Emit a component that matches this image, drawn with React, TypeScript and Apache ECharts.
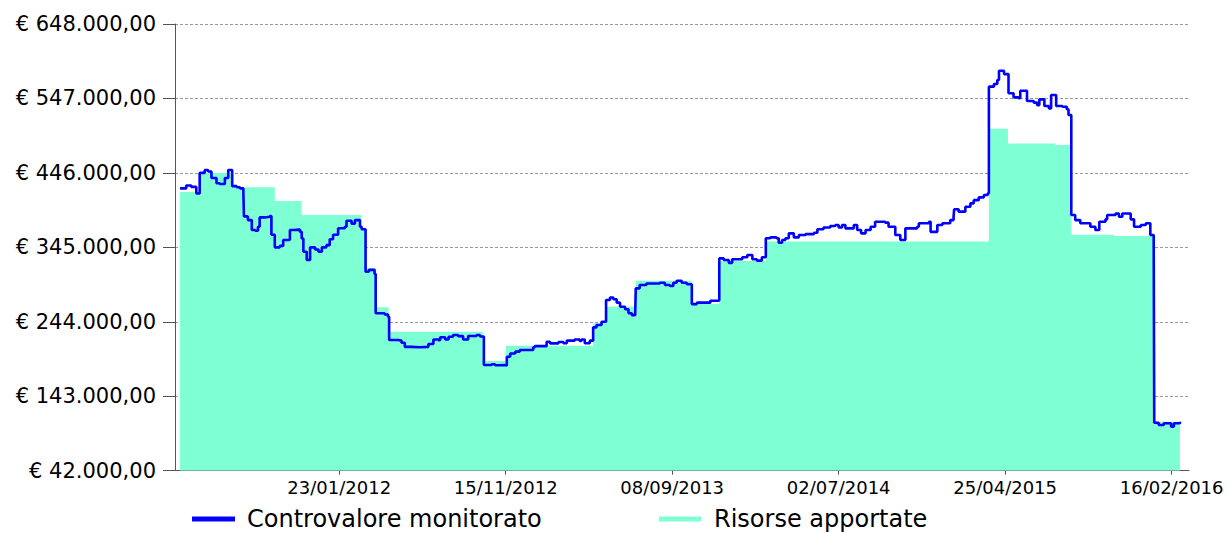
import React, { useEffect, useRef } from "react";
import * as echarts from "echarts";

const FONT = "DejaVu Sans";

// Controvalore monitorato (blue stepped line)
const lineDates = [
  "2011-04-14","2011-04-25","2011-05-04","2011-05-13","2011-05-19","2011-05-28","2011-06-03","2011-06-09","2011-06-18","2011-06-24",
  "2011-07-03","2011-07-09","2011-07-16","2011-07-24","2011-07-30","2011-08-05","2011-08-06","2011-08-13","2011-08-20","2011-08-26",
  "2011-08-31","2011-09-03","2011-09-12","2011-09-21","2011-09-24","2011-09-30","2011-10-09","2011-10-15","2011-10-24","2011-10-27",
  "2011-11-02","2011-11-14","2011-11-17","2011-11-20","2011-11-26","2011-12-02","2011-12-11","2011-12-17","2011-12-23","2011-12-31",
  "2012-01-06","2012-01-12","2012-01-21","2012-02-02","2012-02-05","2012-02-14","2012-02-20","2012-02-29","2012-03-03","2012-03-10",
  "2012-03-16","2012-03-26","2012-03-28","2012-04-13","2012-04-19","2012-04-21","2012-05-07","2012-05-13","2012-05-19","2012-05-31",
  "2012-06-15","2012-06-30","2012-07-09","2012-07-18","2012-07-21","2012-07-30","2012-08-05","2012-08-13","2012-08-22","2012-08-31",
  "2012-09-09","2012-09-24","2012-09-30","2012-10-07","2012-10-21","2012-10-27","2012-11-05","2012-11-14","2012-11-17","2012-11-23",
  "2012-12-02","2012-12-10","2013-01-03","2013-01-06","2013-01-27","2013-02-02","2013-02-17","2013-02-26","2013-03-04","2013-03-18",
  "2013-03-27","2013-03-30","2013-04-05","2013-04-14","2013-04-20","2013-04-26","2013-05-05","2013-05-13","2013-05-20","2013-05-26",
  "2013-06-01","2013-06-07","2013-06-16","2013-06-22","2013-06-28","2013-07-04","2013-07-05","2013-07-12","2013-07-24","2013-08-17",
  "2013-08-26","2013-09-04","2013-09-10","2013-09-16","2013-09-25","2013-10-04","2013-10-13","2013-10-22","2013-11-15","2013-11-30",
  "2013-12-01","2013-12-09","2013-12-18","2013-12-24","2014-01-11","2014-01-20","2014-01-29","2014-02-06","2014-02-15","2014-02-22",
  "2014-03-02","2014-03-13","2014-03-17","2014-03-23","2014-03-29","2014-04-04","2014-04-13","2014-04-22","2014-05-04","2014-05-19",
  "2014-05-25","2014-06-05","2014-06-17","2014-06-26","2014-07-02","2014-07-08","2014-07-14","2014-07-29","2014-08-04","2014-08-11",
  "2014-08-19","2014-08-28","2014-09-05","2014-09-23","2014-09-29","2014-10-11","2014-10-20","2014-10-29","2014-11-19","2014-11-22",
  "2014-12-10","2014-12-13","2014-12-25","2015-01-03","2015-01-17","2015-01-23","2015-01-24","2015-02-01","2015-02-13","2015-02-22",
  "2015-02-28","2015-03-09","2015-03-18","2015-03-25","2015-03-27","2015-04-05","2015-04-11","2015-04-14","2015-04-23","2015-05-01",
  "2015-05-10","2015-05-19","2015-05-22","2015-06-03","2015-06-15","2015-06-21","2015-06-25","2015-07-04","2015-07-12","2015-07-16",
  "2015-07-25","2015-08-05","2015-08-13","2015-08-16","2015-08-21","2015-08-28","2015-09-06","2015-09-24","2015-10-03","2015-10-10",
  "2015-10-21","2015-10-24","2015-11-08","2015-11-14","2015-11-20","2015-12-05","2015-12-11","2015-12-23","2016-01-01","2016-01-09",
  "2016-01-15","2016-01-16","2016-01-24","2016-02-02","2016-02-15","2016-02-20","2016-03-02"
];
const lineValues = [
  425000,429000,427000,418000,446000,450000,448000,439000,432000,431000,
  439000,450000,428000,426500,425000,418000,387000,382000,368500,367500,
  373000,385600,386500,387500,362000,345000,347000,355000,355500,368500,
  369000,366000,357000,339000,328000,345000,342000,339000,345000,348000,
  356000,362000,371000,373000,381000,377000,382000,373000,369500,312000,
  314500,309000,255500,254000,251000,219300,218500,215600,210000,209400,
  210000,213900,220000,219000,223000,220000,223800,226000,224500,220000,
  224700,226000,224000,185400,186500,185000,185400,184500,196600,201000,
  203500,205700,209400,211000,217000,214700,216500,215000,218400,220000,
  218000,220000,215000,218400,236500,239600,244000,273600,277000,274500,
  270000,264500,261000,255500,253000,255500,289400,294000,296000,297000,
  294000,292500,297000,299600,297000,295000,268000,270000,272600,273500,
  330000,327800,324000,328800,331500,334600,328800,327000,331500,357300,
  358600,357300,351300,355000,357300,364000,358600,361800,363000,364900,
  369500,372000,374000,375300,372000,375300,370800,375300,368500,364000,
  368500,373000,379800,378500,373000,361800,355000,370800,373000,377600,
  379800,366000,375300,377600,382000,386600,396600,393400,400000,404700,
  409000,412800,416000,418300,563000,566600,572000,584600,580000,554000,
  548500,547200,557500,543600,541400,538000,545800,536800,533600,551700,
  536800,535800,532300,524600,388900,382000,377600,373000,368500,379800,
  383000,388900,391000,386600,391000,383000,373000,375300,377600,361800,
  359500,107000,104000,106300,101700,106300,108500
];

// Risorse apportate (mint stepped area)
const areaDates = [
  "2011-04-14","2011-05-19","2011-07-17","2011-09-30","2011-11-17","2012-03-02","2012-03-10","2012-03-28","2012-04-20","2012-10-05",
  "2012-11-15","2013-04-20","2013-05-13","2013-07-05","2013-10-13","2013-12-01","2014-02-22","2015-03-27","2015-04-30","2015-07-23",
  "2015-08-21","2015-11-05","2016-01-16","2016-03-02"
];
const areaValues = [
  420000,446000,426500,408000,389000,371000,316600,263600,230600,190800,
  211600,242000,264500,299600,268500,326500,353000,506000,486000,484000,
  362000,360500,108500,108500
];

// x-axis tick labels
const xTickDates = ["2012-01-23","2012-11-15","2013-09-08","2014-07-02","2015-04-25","2016-02-16"];
const xMinDate = "2011-04-05";
const xMaxDate = "2016-03-18";
// y-axis
const yMin = 42000;
const yMax = 648000;
const yStep = 101000;

const seriesNames = ["Controvalore monitorato", "Risorse apportate"];

function toTs(s: string): number {
  const [y, m, d] = s.split("-").map(Number);
  return Date.UTC(y, m - 1, d);
}
function pad(n: number): string {
  return n < 10 ? "0" + n : "" + n;
}
function fmtDate(v: number): string {
  const d = new Date(v + 12 * 3600 * 1000);
  return pad(d.getUTCDate()) + "/" + pad(d.getUTCMonth() + 1) + "/" + d.getUTCFullYear();
}
function fmtEuro(v: number): string {
  const s = Math.round(v).toString().replace(/\B(?=(\d{3})+(?!\d))/g, ".");
  return "€ " + s + ",00";
}

export default function App() {
  const ref = useRef<HTMLDivElement>(null);
  useEffect(() => {
    if (!ref.current) return;
    const chart = echarts.init(ref.current, null, { renderer: "svg" });
    const ticks = xTickDates.map(toTs);
    const lineData = lineDates.map((d, i) => [toTs(d), lineValues[i]]);
    const areaData = areaDates.map((d, i) => [toTs(d), areaValues[i]]);
    const axisColor = "#555";
    chart.setOption({
      animation: false,
      backgroundColor: "#fff",
      textStyle: { fontFamily: FONT },
      grid: { left: 175, right: 41, top: 24, bottom: 62.3, containLabel: false },
      legend: [
        {
          data: [seriesNames[0]],
          left: 192,
          top: 507,
          padding: 0,
          icon: "rect",
          itemWidth: 43,
          itemHeight: 5,
          textStyle: { fontSize: 24, fontFamily: FONT, color: "#000", padding: [0, 0, 0, 7] },
        },
        {
          data: [seriesNames[1]],
          left: 659,
          top: 507,
          padding: 0,
          icon: "rect",
          itemWidth: 42,
          itemHeight: 5,
          textStyle: { fontSize: 24, fontFamily: FONT, color: "#000", padding: [0, 0, 0, 8] },
        },
      ],
      xAxis: {
        type: "value",
        min: toTs(xMinDate),
        max: toTs(xMaxDate),
        axisLine: { show: true, lineStyle: { color: axisColor, width: 1 } },
        axisTick: { show: true, length: 4, customValues: ticks, lineStyle: { color: axisColor } },
        axisLabel: {
          customValues: ticks,
          formatter: (v: number) => fmtDate(v),
          fontSize: 18,
          fontFamily: FONT,
          color: "#000",
          margin: 8,
          hideOverlap: false,
        },
        splitLine: { show: false },
      },
      yAxis: {
        type: "value",
        min: yMin,
        max: yMax,
        interval: yStep,
        axisLine: { show: true, lineStyle: { color: axisColor, width: 1 } },
        axisTick: { show: true, length: 12, lineStyle: { color: axisColor } },
        axisLabel: {
          formatter: (v: number) => fmtEuro(v),
          fontSize: 21,
          fontFamily: FONT,
          color: "#000",
          margin: 19,
        },
        splitLine: { show: true, lineStyle: { color: "#999", type: [3, 2], width: 1 } },
      },
      series: [
        {
          name: seriesNames[1],
          type: "line",
          step: "end",
          data: areaData,
          showSymbol: false,
          symbol: "none",
          z: 1,
          itemStyle: { color: "#7fffd4" },
          lineStyle: { width: 0, color: "#7fffd4" },
          areaStyle: { color: "#7fffd4", opacity: 1, origin: "start" },
        },
        {
          name: seriesNames[0],
          type: "line",
          step: "end",
          data: lineData,
          showSymbol: false,
          symbol: "none",
          z: 3,
          itemStyle: { color: "#0000ff" },
          lineStyle: { width: 2.6, color: "#0000ff" },
        },
      ],
    });
    return () => chart.dispose();
  }, []);
  return (
    <div
      ref={ref}
      style={{ position: "fixed", left: 0, top: 0, width: 1230, height: 533, background: "#fff" }}
    />
  );
}
